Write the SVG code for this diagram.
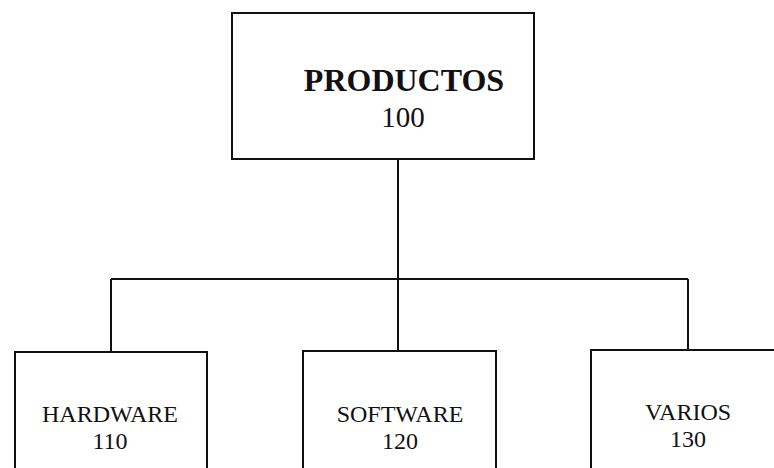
<svg xmlns="http://www.w3.org/2000/svg" width="774" height="468" viewBox="0 0 774 468">
<style>
.box{fill:#fff;stroke:#111;stroke-width:2}
.ln{fill:none;stroke:#111;stroke-width:2}
text{font-family:"Liberation Serif","Times New Roman",serif;fill:#111;text-anchor:middle}
.t{font-size:32px;font-weight:bold}
.n{font-size:29px}
.s{font-size:24px}
</style>
<rect width="774" height="468" fill="#fff"/>
<g id="connectors">
<path class="ln" d="M398 159 V351 M111 279 H688 M111 279 V352 M688 279 V350"/>
</g>
<g id="productos">
<rect class="box" x="232" y="13" width="302" height="146"/>
<text class="t" x="404" y="91">PRODUCTOS</text>
<text class="n" x="403" y="127">100</text>
</g>
<g id="hardware">
<rect class="box" x="15" y="352" width="192" height="130"/>
<text class="s" x="110" y="422">HARDWARE</text>
<text class="s" x="110" y="449">110</text>
</g>
<g id="software">
<rect class="box" x="303" y="351" width="193" height="130"/>
<text class="s" x="400" y="422">SOFTWARE</text>
<text class="s" x="400" y="449">120</text>
</g>
<g id="varios">
<rect class="box" x="591" y="350" width="195" height="130"/>
<text class="s" x="688" y="420">VARIOS</text>
<text class="s" x="688" y="447">130</text>
</g>
</svg>
